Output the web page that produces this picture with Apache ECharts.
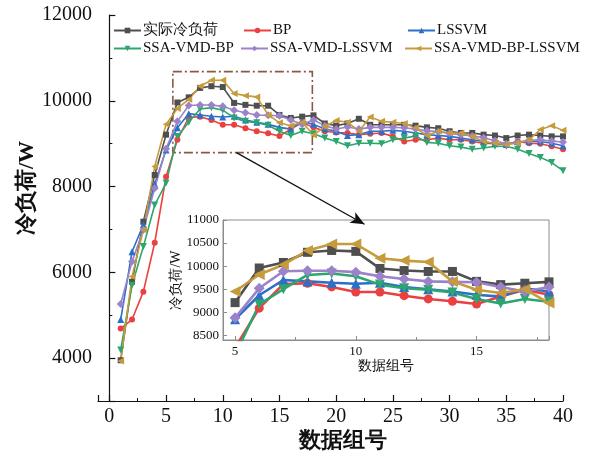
<!DOCTYPE html>
<html>
<head>
<meta charset="utf-8">
<script src="https://cdn.jsdelivr.net/npm/echarts@6/dist/echarts.min.js"></script>
<style>
  html, body { margin: 0; padding: 0; background: #fff; }
  #chart { width: 591px; height: 459px; }
</style>
</head>
<body>
<div id="chart"></div>
<script>
// 数据组号
const groupIds = [1, 2, 3, 4, 5, 6, 7, 8, 9, 10, 11, 12, 13, 14, 15, 16, 17, 18, 19, 20,
  21, 22, 23, 24, 25, 26, 27, 28, 29, 30, 31, 32, 33, 34, 35, 36, 37, 38, 39, 40];

// 冷负荷 (W)
const actualLoad = [3950, 5780, 7180, 8270, 9210, 9960, 10080, 10300, 10340, 10320,
  9950, 9905, 9885, 9885, 9670, 9600, 9630, 9660, 9470, 9420,
  9470, 9580, 9440, 9440, 9440, 9440, 9420, 9380, 9360, 9290,
  9250, 9250, 9210, 9190, 9130, 9190, 9210, 9190, 9170, 9170];
const bpPred = [4690, 4900, 5550, 6690, 8230, 9090, 9610, 9630, 9550, 9440,
  9440, 9360, 9290, 9240, 9180, 9340, 9490, 9380, 9290, 9260,
  9250, 9210, 9230, 9250, 9170, 9050, 9090, 9090, 9130, 9090,
  9090, 9050, 9010, 9000, 8980, 9050, 9010, 9000, 8940, 8870];
const lssvmPred = [4900, 6480, 7110, 8060, 8850, 9370, 9700, 9670, 9640, 9620,
  9640, 9550, 9500, 9450, 9380, 9340, 9520, 9450, 9340, 9290,
  9190, 9210, 9290, 9290, 9310, 9290, 9250, 9210, 9190, 9170,
  9130, 9090, 9050, 9000, 8980, 9050, 9050, 9050, 9010, 8950];
const ssaVmdBpPred = [4190, 5700, 6600, 7570, 8080, 9170, 9500, 9810, 9840, 9780,
  9600, 9520, 9490, 9430, 9290, 9190, 9290, 9230, 9130, 9050,
  8950, 9010, 9010, 9000, 9090, 9130, 9180, 9030, 9010, 8950,
  8920, 8870, 8900, 8940, 8940, 8870, 8770, 8680, 8560, 8370];
const ssaVmdLssvmPred = [5260, 6250, 6990, 7960, 8880, 9520, 9890, 9900, 9900, 9870,
  9780, 9720, 9670, 9660, 9650, 9550, 9450, 9550, 9420, 9340,
  9390, 9340, 9380, 9380, 9380, 9370, 9340, 9300, 9280, 9240,
  9210, 9180, 9140, 9070, 9000, 9020, 9080, 9090, 9060, 9040];
const ssaVmdBpLssvmPred = [3930, 5900, 6990, 8470, 9450, 9820, 10030, 10340, 10480, 10480,
  10170, 10120, 10090, 9670, 9490, 9420, 9500, 9200, 9400, 9540,
  9500, 9290, 9620, 9520, 9500, 9470, 9370, 9190, 9290, 9250,
  9250, 9170, 9050, 9010, 8980, 9010, 9090, 9330, 9420, 9310];

// 局部放大区间 (数据组号)
const zoomFrom = 5;
const zoomTo = 18;
// 主图中放大框与指示箭头 (数据坐标)
const zoomBoxX = [5.6, 17.9];
const zoomBoxY = [8790, 10680];
const arrowFrom = [11.2, 8790];
const arrowTo = [22.5, 7120];

const SERIF = 'Liberation Serif';

const seriesDefs = [
  { name: '实际冷负荷', data: actualLoad, color: '#4f4f4f', symbol: 'rect', rotate: 0, size: 6, zsize: 9 },
  { name: 'BP', data: bpPred, color: '#ec4040', symbol: 'circle', rotate: 0, size: 6, zsize: 9 },
  { name: 'LSSVM', data: lssvmPred, color: '#2b70c8', symbol: 'triangle', rotate: 0, size: 7, zsize: 10 },
  { name: 'SSA-VMD-BP', data: ssaVmdBpPred, color: '#2ca66e', symbol: 'triangle', rotate: 180, size: 7, zsize: 10 },
  { name: 'SSA-VMD-LSSVM', data: ssaVmdLssvmPred, color: '#9b82c9', symbol: 'diamond', rotate: 0, size: 8, zsize: 11 },
  { name: 'SSA-VMD-BP-LSSVM', data: ssaVmdBpLssvmPred, color: '#c59b3c', symbol: 'triangle', rotate: 90, size: 7, zsize: 11 }
];

const pairs = (arr) => groupIds.map((g, i) => [g, arr[i]]);
const zoomPairs = (arr) => groupIds
  .map((g, i) => [g, arr[i]])
  .filter(p => p[0] >= zoomFrom && p[0] <= zoomTo);

const mainSeries = seriesDefs.map(d => ({
  name: d.name,
  type: 'line',
  xAxisIndex: 0,
  yAxisIndex: 0,
  data: pairs(d.data),
  symbol: d.symbol,
  symbolSize: d.size,
  symbolRotate: d.rotate,
  showAllSymbol: true,
  color: d.color,
  lineStyle: { width: 1.6, color: d.color },
  itemStyle: { color: d.color },
  emphasis: { disabled: true },
  animation: false
}));

const insetSeries = seriesDefs.map(d => ({
  name: d.name,
  type: 'line',
  xAxisIndex: 1,
  yAxisIndex: 1,
  data: zoomPairs(d.data),
  symbol: d.symbol,
  symbolSize: d.zsize,
  symbolRotate: d.rotate,
  showAllSymbol: true,
  clip: true,
  color: d.color,
  lineStyle: { width: 2.6, color: d.color },
  itemStyle: { color: d.color },
  emphasis: { disabled: true },
  animation: false
}));

// 放大框与箭头挂在第一条曲线上
mainSeries[0].markArea = {
  silent: true,
  itemStyle: {
    color: 'rgba(0,0,0,0)',
    borderColor: '#8a5a3e',
    borderWidth: 1.6,
    borderType: [9, 3, 2, 3]
  },
  data: [[{ coord: [zoomBoxX[0], zoomBoxY[1]] }, { coord: [zoomBoxX[1], zoomBoxY[0]] }]]
};
mainSeries[0].markLine = {
  silent: true,
  symbol: ['none', 'arrow'],
  symbolSize: [9, 14],
  label: { show: false },
  lineStyle: { color: '#111', width: 1.3, type: 'solid' },
  data: [[{ coord: arrowFrom }, { coord: arrowTo }]]
};

// 图例: 三列两行
const legendSlots = [
  { name: '实际冷负荷', left: 113, top: 23 },
  { name: 'BP', left: 243, top: 23 },
  { name: 'LSSVM', left: 407, top: 23 },
  { name: 'SSA-VMD-BP', left: 113, top: 41 },
  { name: 'SSA-VMD-LSSVM', left: 240, top: 41 },
  { name: 'SSA-VMD-BP-LSSVM', left: 404, top: 41 }
];
const legends = legendSlots.map(s => ({
  data: [s.name],
  left: s.left,
  top: s.top,
  padding: 0,
  itemWidth: 27,
  itemHeight: 7,
  itemGap: 0,
  selectedMode: false,
  textStyle: { fontFamily: SERIF, fontSize: 15, color: '#111', padding: [0, 0, 0, -3] }
}));

const plain = v => String(v);

const option = {
  backgroundColor: '#fff',
  animation: false,
  textStyle: { fontFamily: SERIF },
  legend: legends,
  grid: [
    { left: 98, right: 28, top: 15, bottom: 58, containLabel: false },
    { left: 223, right: 42, top: 220, bottom: 119, containLabel: false,
      show: true, borderColor: '#8c8c8c', borderWidth: 1 }
  ],
  xAxis: [
    {
      type: 'value', gridIndex: 0, min: -1, max: 40, splitNumber: 8,
      name: '数据组号', nameLocation: 'middle', nameGap: 29, nameMoveOverlap: false,
      nameTextStyle: { fontFamily: SERIF, color: '#111', fontSize: 22, fontWeight: 'bold', padding: [0, 0, 0, 24] },
      axisLine: { show: true, lineStyle: { color: '#111', width: 1.2 } },
      axisTick: { show: true, inside: true, length: 6, lineStyle: { color: '#111', width: 1.2 } },
      minorTick: { show: true, splitNumber: 2, length: 3, lineStyle: { color: '#111', width: 1 } },
      axisLabel: { fontFamily: SERIF, color: '#111', fontSize: 20, margin: 6, showMinLabel: false, formatter: plain },
      splitLine: { show: false }
    },
    {
      type: 'value', gridIndex: 1, min: 4.5, max: 18, splitNumber: 3,
      name: '数据组号', nameLocation: 'middle', nameGap: 19, nameMoveOverlap: false,
      nameTextStyle: { fontFamily: SERIF, color: '#111', fontSize: 14 },
      axisLine: { show: true, lineStyle: { color: '#8c8c8c', width: 1 } },
      axisTick: { show: true, inside: true, length: 4, lineStyle: { color: '#8c8c8c' } },
      minorTick: { show: true, splitNumber: 2, length: 3, lineStyle: { color: '#8c8c8c' } },
      axisLabel: { fontFamily: SERIF, color: '#111', fontSize: 13, margin: 5,
        formatter: v => (v % 5 === 0 ? String(v) : '') },
      splitLine: { show: false }
    }
  ],
  yAxis: [
    {
      type: 'value', gridIndex: 0, min: 3000, max: 12000, splitNumber: 5,
      name: '冷负荷/W', nameLocation: 'middle', nameGap: 60, nameMoveOverlap: false,
      nameTextStyle: { fontFamily: SERIF, color: '#111', fontSize: 22, fontWeight: 'bold', padding: [0, 0, 0, 40] },
      axisLine: { show: true, lineStyle: { color: '#111', width: 1.2 } },
      axisTick: { show: true, inside: true, length: 6, lineStyle: { color: '#111', width: 1.2 } },
      minorTick: { show: true, splitNumber: 2, length: 3, lineStyle: { color: '#111', width: 1 } },
      axisLabel: { fontFamily: SERIF, color: '#111', fontSize: 20, margin: 6, showMinLabel: false, formatter: plain },
      splitLine: { show: false }
    },
    {
      type: 'value', gridIndex: 1, min: 8400, max: 11000, splitNumber: 5,
      name: '冷负荷/W', nameLocation: 'middle', nameGap: 40, nameMoveOverlap: false,
      nameTextStyle: { fontFamily: SERIF, color: '#111', fontSize: 14 },
      axisLine: { show: true, lineStyle: { color: '#8c8c8c', width: 1 } },
      axisTick: { show: true, inside: true, length: 4, lineStyle: { color: '#8c8c8c' } },
      axisLabel: { fontFamily: SERIF, color: '#111', fontSize: 13, margin: 4, showMinLabel: false, formatter: plain },
      splitLine: { show: false }
    }
  ],
  series: mainSeries.concat(insetSeries)
};

const chart = echarts.init(document.getElementById('chart'), null, { renderer: 'canvas' });
chart.setOption(option);
</script>
</body>
</html>
